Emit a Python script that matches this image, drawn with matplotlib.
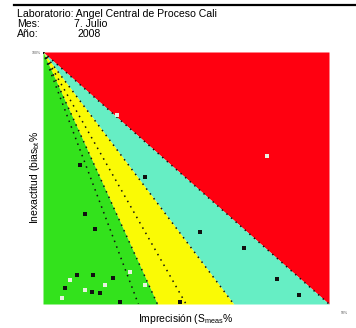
"""Method decision chart (Westgard sigma zones) for monthly lab report."""

import numpy as np
import matplotlib.pyplot as plt
from matplotlib.lines import Line2D

plt.rcParams["font.family"] = ["Liberation Sans", "DejaVu Sans"]

# header info
LAB = "Angel Central de Proceso Cali"
MONTH = "7. Julio"
YEAR = "2008"

# chart limits (TEa = 100 %)
TEA = 100.0
X_MAX = 50.0

# sigma boundaries of the coloured zones and dotted reference lines
ZONE_SIGMAS = [2, 3, 5]
ZONE_COLORS = ["#FF0010", "#66EEC4", "#FAFA05", "#33E21C"]  # red, cyan, yellow, green
DOTTED_SIGMAS = [2, 3, 4, 5, 6]

# measured analytes (imprecision %, bias %)
dark_x = [7.3, 9.1, 6.4, 27.4, 35.2, 40.9, 44.8, 5.9, 8.7, 12.2, 8.5, 9.9, 13.4, 3.8, 23.9, 17.9]
dark_y = [35.9, 29.9, 55.0, 28.7, 22.3, 10.0, 3.6, 11.6, 11.6, 10.4, 4.8, 4.4, 0.8, 6.4, 0.8, 50.2]
light_x = [4.7, 7.3, 10.8, 15.2, 17.8, 3.3, 39.2, 13.0]
light_y = [9.6, 5.6, 7.6, 12.7, 7.6, 2.4, 58.6, 75.0]

fig = plt.figure(figsize=(3.56, 3.28), dpi=100, facecolor="white")
ax = fig.add_axes([43 / 356, 1 - 304 / 328, 286 / 356, 252 / 328])

x = np.linspace(0, X_MAX, 400)
bounds = [np.full_like(x, TEA)] + [np.clip(TEA - s * x, 0, TEA) for s in ZONE_SIGMAS] + [np.zeros_like(x)]
for upper, lower, color in zip(bounds[:-1], bounds[1:], ZONE_COLORS):
    ax.fill_between(x, lower, upper, color=color, lw=0)

for s in DOTTED_SIGMAS:
    ax.plot(x, TEA - s * x, color="#111111", ls=(0, (1, 3)), lw=1.1)

ax.scatter(light_x, light_y, s=6, marker="s", color="#E8F0E0", lw=0, zorder=3)
ax.scatter(dark_x, dark_y, s=5, marker="s", color="#111111", lw=0, zorder=4)

ax.set_xlim(0, X_MAX)
ax.set_ylim(0, TEA)
ax.set_xticks([])
ax.set_yticks([])
for spine in ax.spines.values():
    spine.set_visible(False)

ax.set_xlabel("Imprecisión (S$_{\\mathregular{meas}}$%", fontsize=7.5, labelpad=6)
ax.set_ylabel("Inexactitud (bias$_{\\mathregular{bt}}$%", fontsize=7.5, labelpad=1)

# tiny corner labels
fig.text(36 / 356, 1 - 53 / 328, "100%", fontsize=2.5, ha="center", va="center", color="#555555")
fig.text(344 / 356, 1 - 313 / 328, "50%", fontsize=2.5, ha="center", va="center", color="#555555")

# header
fig.add_artist(Line2D([14 / 356, 1.0], [1 - 5 / 328] * 2, color="black", lw=1.6))
fig.text(17 / 356, 1 - 14 / 328, "Laboratorio: " + LAB, fontsize=7.6, va="center")
fig.text(17 / 356, 1 - 24 / 328, "Mes:", fontsize=7.6, va="center")
fig.text(74 / 356, 1 - 24 / 328, MONTH, fontsize=7.6, va="center")
fig.text(17 / 356, 1 - 34 / 328, "Año:", fontsize=7.6, va="center")
fig.text(77 / 356, 1 - 34 / 328, YEAR, fontsize=7.6, va="center")

fig.savefig("out.png", dpi=100, facecolor="white")
